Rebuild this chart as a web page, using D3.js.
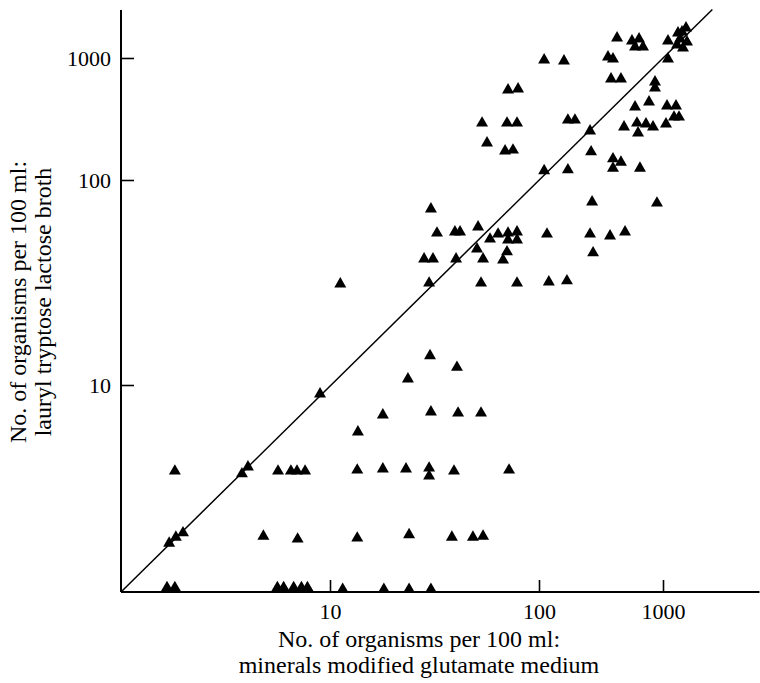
<!DOCTYPE html>
<html>
<head>
<meta charset="utf-8">
<script src="https://cdn.jsdelivr.net/npm/d3@7"></script>
<style>
    body { margin: 0; background: #fff; }
    svg { display: block; font-family: "Liberation Serif", "Times New Roman", serif; }
    .tick text { font-size: 22px; fill: #000; }
    .axis-title { font-size: 24px; fill: #000; }
</style>
</head>
<body>
<svg id="chart"></svg>
<script>
// counts per 100 ml, one entry per sample
// x: minerals modified glutamate medium
const mmgmCounts = [
    1.66, 1.81, 5.6, 6.0, 6.7, 7.3, 7.8, 11.5, 18.1, 23.9, 30.4,
    1.70, 1.83, 1.98, 4.8, 7.0,
    1.81, 3.79, 4.05, 5.64, 6.5, 6.95, 7.6, 8.96,
    13.5, 23.9, 38.3, 48.3, 54.0,
    13.5, 17.9, 23.1, 29.8, 29.8, 39.2, 71.9,
    13.6, 17.9, 30.4, 41.0, 52.8,
    23.6, 30.1, 40.5,
    11.2, 29.8, 52.8, 30.4,
    32.5, 39.6, 41.9, 51.1, 58.3, 63.7, 50.5,
    28.2, 31.1, 40.1, 54.0, 67.3, 70.3, 71.1, 78.5, 71.1, 78.5,
    116, 258, 374, 494, 273, 78.5, 120, 168, 268, 894,
    53.4, 70.3, 78.5, 56.4, 68.8, 75.1, 71.1, 79.4,
    110, 159, 171, 195, 258, 110, 171, 263, 395, 458, 395, 652,
    381, 458, 360, 395, 426, 562, 641, 595, 690, 1097,
    862, 862, 595, 771, 1077, 1273, 1227, 1346,
    485, 617, 729, 831, 629, 1057,
    1097, 1321, 1533, 1423, 1371, 1561, 1450, 1297
];

// y: lauryl tryptose lactose broth
const lstbCounts = [
    1.05, 1.05, 1.05, 1.05, 1.05, 1.05, 1.05, 1.03, 1.03, 1.03, 1.03,
    1.72, 1.84, 1.93, 1.86, 1.80,
    3.84, 3.72, 4.02, 3.84, 3.84, 3.84, 3.84, 9.05,
    1.82, 1.89, 1.84, 1.84, 1.86,
    3.88, 3.93, 3.93, 3.97, 3.63, 3.84, 3.88,
    5.93, 7.16, 7.41, 7.32, 7.32,
    10.7, 13.9, 12.2,
    31.1, 31.4, 31.4, 72.2,
    55.1, 55.8, 55.8, 59.0, 51.5, 54.5, 46.1,
    41.2, 41.2, 41.2, 41.2, 40.7, 44.6, 55.1, 55.8, 51.0, 51.0,
    54.5, 54.5, 53.3, 55.8, 44.1, 31.4, 31.8, 32.2, 78.1, 77.2,
    293, 293, 293, 201, 173, 176, 547, 557,
    963, 945, 310, 310, 252, 119, 121, 170, 149, 140, 125, 125,
    673, 673, 1019, 981, 1459, 1378, 1431, 1231, 1231, 981,
    636, 568, 397, 436, 404, 404, 328, 328,
    272, 293, 288, 272, 243, 288,
    1378, 1603, 1762, 1634, 1431, 1352, 1208, 1278
];

const tickValues = [10, 100, 1000];
const decades = [1, 10, 100, 1000];
const xAxisMax = 6000;
const yAxisMax = 2470;
const lineMax = 2500;   // end of the line of equality

const xTitle = ['No. of organisms per 100 ml:', 'minerals modified glutamate medium'];
const yTitle = ['No. of organisms per 100 ml:', 'lauryl tryptose lactose broth'];

const width = 760;
const height = 683;

const points = mmgmCounts.map((d, i) => ({ x: d, y: lstbCounts[i] }));

const svg = d3.select('#chart')
    .attr('width', width)
    .attr('height', height);

// the printed axes are not evenly spaced: the top decade is squeezed
const xScale = d3.scaleLog()
    .domain(decades)
    .range([121, 330, 539, 663]);

const yScale = d3.scaleLog()
    .domain(decades)
    .range([592, 385, 180, 58]);

// axes
const xAxis = d3.axisBottom(xScale)
    .tickValues(tickValues)
    .tickFormat(d3.format('d'))
    .tickSize(-12)
    .tickPadding(11);

const yAxis = d3.axisLeft(yScale)
    .tickValues(tickValues)
    .tickFormat(d3.format('d'))
    .tickSize(-13)
    .tickPadding(10);

const xAxisG = svg.append('g')
    .attr('transform', `translate(0, ${yScale(1)})`)
    .call(xAxis);

const yAxisG = svg.append('g')
    .attr('transform', `translate(${xScale(1)}, 0)`)
    .call(yAxis);

[xAxisG, yAxisG].forEach(g => {
    g.select('.domain').remove();
    g.selectAll('.tick line').attr('stroke', '#000').attr('stroke-width', 1.6);
    g.attr('font-family', null).attr('font-size', null);
});

svg.append('line')
    .attr('x1', xScale(1)).attr('x2', xScale(xAxisMax))
    .attr('y1', yScale(1)).attr('y2', yScale(1))
    .attr('stroke', '#000').attr('stroke-width', 2);

svg.append('line')
    .attr('x1', xScale(1)).attr('x2', xScale(1))
    .attr('y1', yScale(1)).attr('y2', yScale(yAxisMax))
    .attr('stroke', '#000').attr('stroke-width', 2);

// line of equality
svg.append('line')
    .attr('x1', xScale(1)).attr('y1', yScale(1))
    .attr('x2', xScale(lineMax)).attr('y2', yScale(lineMax))
    .attr('stroke', '#000').attr('stroke-width', 1.5);

// samples
const triangle = d3.symbol().type(d3.symbolTriangle).size(62);

svg.append('g')
    .selectAll('path')
    .data(points)
    .join('path')
    .attr('d', triangle)
    .attr('transform', d => `translate(${xScale(d.x)}, ${yScale(d.y)})`)
    .attr('fill', '#000');

// axis titles
svg.append('text')
    .attr('class', 'axis-title')
    .attr('text-anchor', 'middle')
    .selectAll('tspan')
    .data(xTitle)
    .join('tspan')
    .attr('x', 419)
    .attr('y', (d, i) => 647 + i * 26)
    .text(d => d);

svg.append('text')
    .attr('class', 'axis-title')
    .attr('text-anchor', 'middle')
    .attr('transform', 'translate(0, 302) rotate(-90)')
    .selectAll('tspan')
    .data(yTitle)
    .join('tspan')
    .attr('x', 0)
    .attr('y', (d, i) => 26 + i * 25)
    .text(d => d);
</script>
</body>
</html>
